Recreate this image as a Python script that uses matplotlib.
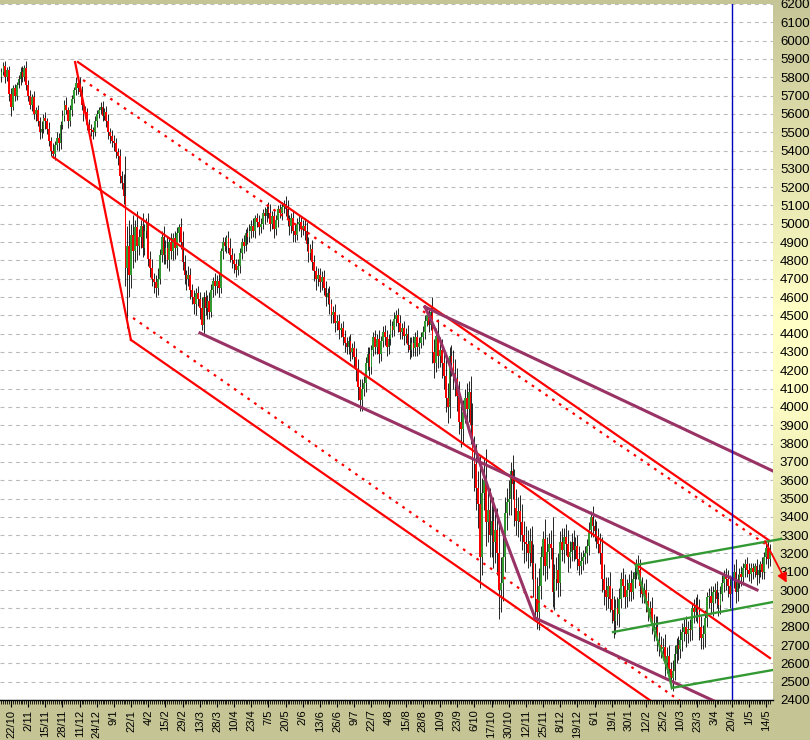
import numpy as np
import matplotlib.pyplot as plt
from matplotlib.colors import LinearSegmentedColormap

plt.rcParams['font.family'] = ['Liberation Sans', 'DejaVu Sans']

# date labels, one every 9 bars, first one on bar 5
date_labels = ['22/10', '2/11', '15/11', '28/11', '11/12', '24/12', '9/1', '22/1', '4/2', '15/2',
               '29/2', '13/3', '28/3', '10/4', '23/4', '7/5', '20/5', '2/6', '13/6', '26/6',
               '9/7', '22/7', '4/8', '15/8', '28/8', '10/9', '23/9', '6/10', '17/10', '30/10',
               '12/11', '25/11', '8/12', '19/12', '6/1', '19/1', '30/1', '12/2', '25/2', '10/3',
               '23/3', '3/4', '20/4', '1/5', '14/5']
first_label_bar = 5
label_step = 9
marker_date = '20/4'   # blue vertical line

first_open = 5800
closes = [
    5830, 5860, 5800, 5840, 5710,
    5640, 5740, 5700, 5760, 5790, 5830, 5800, 5850, 5760,
    5700, 5650, 5690, 5600, 5620, 5560, 5500, 5520, 5580,
    5560, 5520, 5450, 5400, 5380, 5430, 5470, 5440, 5540,
    5590, 5650, 5620, 5560, 5620, 5680, 5730, 5770, 5740,
    5720, 5650, 5600, 5610, 5540, 5520, 5510, 5500, 5560,
    5600, 5620, 5640, 5590, 5610, 5560, 5500, 5480, 5450,
    5440, 5390, 5370, 5260, 5220, 5150, 4760, 4880, 4720,
    4940, 4850, 4980, 4880, 4930, 4990, 4870, 4960, 5000,
    4810, 4760, 4700, 4680, 4650, 4700, 4830, 4930, 4830,
    4870, 4800, 4900, 4850, 4920, 4870, 4950, 4980, 4900,
    4790, 4720, 4700, 4720, 4640, 4600, 4560, 4620, 4590,
    4540, 4450, 4600, 4540, 4580, 4520, 4640, 4690, 4660,
    4690, 4650, 4850, 4900, 4880, 4920, 4870, 4830, 4800,
    4780, 4750, 4770, 4840, 4900, 4880, 4950, 4930, 4960,
    4990, 4960, 5030, 5010, 4980, 5000, 5060, 5040, 5080,
    5060, 5000, 5040, 4970, 5020, 5080, 5060, 5090, 5110,
    5080, 5020, 4990, 5030, 4960, 4940, 5000, 5010, 4970,
    4990, 4960, 4890, 4840, 4860, 4790, 4740, 4700, 4720,
    4680, 4710, 4650, 4600, 4620, 4560, 4500, 4520, 4460,
    4470, 4420, 4430, 4380, 4350, 4330, 4360, 4300, 4320,
    4270, 4200, 4110, 4040, 4100, 4130, 4240, 4290, 4220,
    4310, 4380, 4330, 4370, 4290, 4360, 4410, 4380, 4330,
    4370, 4440, 4420, 4480, 4500, 4460, 4410, 4430, 4390,
    4400, 4340, 4310, 4350, 4320, 4380, 4330, 4350, 4380,
    4410, 4470, 4500, 4450, 4520, 4300, 4240, 4390, 4280,
    4310, 4240, 4170, 4050, 4000, 4280, 4240, 4180, 4150,
    4060, 3920, 3880, 3970, 4050, 3990, 4080, 3900, 3720,
    3690, 3560, 3470, 3180, 3530, 3600, 3370, 3440, 3300,
    3380, 3260, 3330, 3200, 3000, 3040, 3180, 3420, 3480,
    3500, 3650, 3580, 3450, 3380, 3430, 3370, 3300, 3260,
    3250, 3200, 3270, 3150, 3060, 2950, 2880, 3020, 3180,
    3280, 3130, 3210, 3250, 3230, 2990, 3060, 3110, 3040,
    3260, 3220, 3290, 3250, 3180, 3210, 3260, 3220, 3240,
    3170, 3130, 3160, 3180, 3200, 3240, 3330, 3400, 3350,
    3320, 3290, 3250, 3200, 3060, 3000, 2960, 3020, 2950,
    2890, 2830, 2900, 2870, 2950, 3060, 3020, 2960, 3000,
    3040, 2990, 3060, 3100, 3140, 3110, 3020, 2980, 3000,
    2940, 2880, 2900, 2820, 2780, 2800, 2720, 2700, 2680,
    2690, 2600, 2640, 2570, 2520, 2560, 2650, 2700, 2680,
    2730, 2770, 2800, 2760, 2790, 2780, 2900, 2880, 2920,
    2880, 2800, 2740, 2760, 2850, 2960, 2970, 2930, 2990,
    3000, 2950, 2920, 2980, 3040, 3080, 3060, 3020, 2980,
    3060, 3100, 2990, 3050, 3090, 3070, 3120, 3140, 3110,
    3090, 3120, 3100, 3130, 3080, 3110, 3140, 3100, 3180,
    3230, 3170, 3220,
]
wick_up = [
    20, 25, 30, 15, 20,
    30, 20, 25, 15, 20, 25, 30, 15, 40,
    25, 30, 20, 35, 20, 30, 25, 40, 20,
    30, 20, 35, 25, 40, 20, 30, 25, 20,
    30, 25, 40, 20, 30, 25, 15, 30, 35,
    60, 30, 25, 35, 20, 30, 25, 20, 30,
    20, 15, 25, 30, 20, 35, 40, 25, 30,
    35, 30, 25, 40, 30, 50, 220, 110, 140,
    60, 110, 40, 90, 40, 30, 70, 40, 30,
    60, 40, 50, 30, 40, 60, 30, 30, 60,
    40, 60, 30, 50, 30, 40, 30, 20, 50,
    60, 40, 30, 50, 40, 30, 40, 30, 40,
    40, 60, 30, 40, 30, 50, 30, 20, 40,
    30, 40, 20, 30, 30, 20, 40, 50, 40,
    40, 30, 40, 30, 20, 40, 20, 30, 40,
    30, 40, 20, 30, 40, 30, 20, 30, 30,
    40, 50, 30, 40, 30, 20, 30, 30, 20,
    40, 50, 30, 30, 40, 40, 30, 40, 30,
    30, 40, 50, 40, 30, 50, 40, 30, 40,
    40, 30, 40, 40, 30, 40, 30, 30, 40,
    30, 40, 30, 40, 40, 30, 30, 40, 30,
    40, 50, 60, 40, 50, 40, 30, 40, 40,
    30, 30, 40, 30, 50, 30, 30, 40, 40,
    30, 40, 30, 40, 30, 40, 40, 30, 40,
    30, 50, 40, 30, 40, 30, 40, 30, 30,
    30, 30, 40, 40, 30, 80, 70, 40, 90,
    70, 60, 80, 90, 80, 50, 60, 70, 80,
    60, 80, 90, 70, 50, 80, 60, 90, 120,
    120, 110, 90, 260, 80, 120, 170, 100, 120,
    110, 130, 100, 120, 180, 140, 120, 90, 80,
    100, 50, 90, 80, 100, 80, 90, 100, 80,
    90, 80, 70, 80, 100, 90, 120, 100, 60,
    40, 110, 80, 60, 80, 170, 80, 70, 90,
    60, 80, 50, 70, 80, 60, 50, 70, 50,
    60, 70, 50, 40, 40, 40, 40, 30, 60,
    40, 60, 50, 60, 90, 80, 70, 50, 80,
    60, 80, 50, 60, 60, 40, 60, 70, 60,
    50, 70, 40, 40, 30, 50, 60, 50, 40,
    60, 50, 40, 60, 50, 60, 60, 50, 50,
    50, 70, 50, 60, 40, 60, 50, 40, 50,
    60, 50, 40, 60, 40, 50, 30, 50, 40,
    60, 70, 60, 50, 40, 30, 40, 50, 30,
    40, 50, 40, 40, 40, 30, 40, 50, 60,
    50, 40, 70, 40, 30, 40, 30, 30, 40,
    40, 30, 30, 20, 40, 30, 20, 40, 30,
    30, 40, 30,
]
wick_dn = [
    25, 20, 30, 20, 40,
    50, 20, 30, 25, 20, 30, 25, 20, 30,
    30, 25, 35, 30, 40, 25, 35, 30, 25,
    40, 30, 25, 30, 20, 30, 25, 40, 30,
    25, 30, 20, 35, 25, 30, 20, 25, 30,
    25, 30, 40, 20, 30, 25, 30, 35, 20,
    30, 25, 20, 30, 25, 30, 35, 40, 30,
    40, 30, 50, 40, 30, 40, 100, 330, 120,
    70, 90, 60, 80, 50, 60, 50, 40, 40,
    40, 50, 40, 60, 50, 40, 30, 40, 50,
    50, 40, 60, 40, 50, 60, 40, 50, 40,
    40, 50, 60, 40, 50, 40, 50, 60, 40,
    60, 30, 50, 40, 60, 40, 30, 40, 50,
    40, 50, 30, 40, 30, 40, 30, 40, 40,
    50, 40, 30, 40, 30, 40, 30, 40, 30,
    40, 30, 40, 30, 40, 30, 30, 40, 30,
    30, 40, 30, 50, 30, 40, 30, 40, 30,
    40, 30, 50, 40, 60, 40, 30, 40, 40,
    30, 50, 40, 50, 40, 40, 50, 60, 40,
    50, 40, 40, 50, 40, 50, 40, 40, 50,
    40, 50, 40, 40, 50, 40, 40, 50, 40,
    50, 60, 70, 60, 60, 40, 50, 40, 50,
    40, 30, 40, 40, 50, 40, 30, 40, 50,
    40, 30, 40, 30, 40, 50, 40, 40, 50,
    40, 40, 50, 40, 40, 40, 50, 40, 30,
    40, 40, 30, 40, 30, 60, 80, 50, 70,
    60, 80, 70, 80, 90, 60, 70, 80, 90,
    80, 70, 100, 80, 60, 90, 70, 100, 110,
    150, 120, 130, 170, 100, 90, 130, 110, 120,
    120, 140, 110, 120, 160, 120, 100, 80, 90,
    70, 90, 80, 100, 80, 90, 100, 80, 110,
    90, 80, 70, 90, 100, 110, 90, 100, 70,
    100, 80, 70, 90, 60, 80, 100, 60, 80,
    70, 60, 70, 60, 80, 60, 50, 60, 50,
    60, 50, 40, 50, 40, 50, 50, 40, 60,
    50, 60, 50, 60, 70, 80, 70, 60, 70,
    70, 90, 70, 60, 70, 50, 60, 60, 50,
    60, 50, 40, 50, 40, 50, 60, 50, 50,
    60, 50, 50, 60, 60, 50, 50, 60, 50,
    60, 70, 50, 60, 60, 70, 50, 50, 60,
    50, 60, 50, 70, 50, 60, 50, 60, 50,
    60, 70, 60, 60, 70, 50, 60, 60, 70,
    60, 50, 60, 50, 40, 50, 60, 60, 80,
    60, 50, 60, 50, 40, 50, 40, 50, 40,
    40, 50, 40, 30, 50, 40, 40, 40, 40,
    40, 50, 40,
]

# trend lines drawn on the chart, points as (bar, price)
red_solid = [
    [(38.6, 5883), (67.9, 4366)],
    [(40.1, 5883), (403.0, 3268)],
    [(27.0, 5365), (403.0, 2629)],
    [(67.9, 4366), (366.3, 2209)],
]
red_dotted = [
    [(42.8, 5785), (400.4, 3253)],
    [(69.0, 4486), (376.8, 2242)],
]
purple_lines = [
    [(104.1, 4404), (396.2, 3001)],
    [(222.1, 4546), (404.6, 3650)],
    [(222.1, 4546), (230.0, 4365), (237.8, 4158), (245.7, 3858), (263.0, 3312), (279.8, 2848)],
    [(279.8, 2848), (387.3, 2329)],
]
green_lines = [
    [(320.7, 2771), (404.6, 2935)],
    [(351.6, 2466), (404.6, 2564)],
    [(332.7, 3137), (336.4, 3001), (341.1, 2820), (345.3, 2689), (349.5, 2564), (351.6, 2466)],
]
green_top = [(332.7, 3137), (408.8, 3279)]
arrow_from = (400.4, 3268)
arrow_to = (411.8, 3040)

# ---------------------------------------------------------------
W, H = 810, 740
fig = plt.figure(figsize=(W / 100, H / 100), dpi=100)
fig.patch.set_facecolor('#C4C494')

# right hand price panel with its gradient
pan = fig.add_axes([773 / W, 40 / H, 37 / W, 700 / H], zorder=0)
cmap = LinearSegmentedColormap.from_list('panel', [(0, '#C6C597'), (0.45, '#FFFFC6'),
                                                   (0.55, '#FFFFC6'), (1, '#C6C597')])
pan.imshow(np.linspace(0, 1, 256).reshape(-1, 1), aspect='auto', cmap=cmap, extent=[0, 1, 0, 1])
pan.axis('off')

ax = fig.add_axes([0, 40 / H, 773 / W, 696 / H], zorder=1)
ax.set_facecolor('white')

c = np.array(closes)
o = np.array([first_open] + closes[:-1])
x = np.arange(len(c))
hi = np.maximum(o, c) + np.array(wick_up)
lo = np.minimum(o, c) - np.array(wick_dn)
cols = np.where(c >= o, '#339933', '#FF0000')

ax.vlines(x, lo, hi, color='black', lw=0.6, zorder=2)
ax.bar(x, np.maximum(np.abs(c - o), 8), bottom=np.minimum(o, c), width=0.9,
       color=cols, linewidth=0, zorder=3)

for pts in red_solid:
    px, py = zip(*pts)
    ax.plot(px, py, color='#FF0000', lw=1.6, zorder=4)
for pts in red_dotted:
    px, py = zip(*pts)
    ax.plot(px, py, color='#FF0000', lw=1.6, ls=(0, (1.2, 2.5)), zorder=4)
for pts in purple_lines:
    px, py = zip(*pts)
    ax.plot(px, py, color='#993366', lw=2.2, zorder=4)
for pts in green_lines:
    px, py = zip(*pts)
    ax.plot(px, py, color='#339933', lw=1.7, zorder=4)
px, py = zip(*green_top)
ax.plot(px, py, color='#339933', lw=1.7, zorder=4, clip_on=False)

ax.annotate('', xy=arrow_to, xytext=arrow_from, annotation_clip=False,
            arrowprops=dict(arrowstyle='-|>', color='#FF0000', lw=1.3,
                            mutation_scale=14, shrinkA=0, shrinkB=0),
            zorder=5).set_clip_on(False)

label_bars = [first_label_bar + label_step * k for k in range(len(date_labels))]
ax.axvline(label_bars[date_labels.index(marker_date)], color='#0000C0', lw=1.0, zorder=5)

ax.set_xlim(-0.77, 404.6)
ax.set_ylim(2400, 6200)

ax.set_xticks(label_bars)
ax.set_xticklabels(date_labels, rotation=90, fontsize=8)
ax.set_xticks(x, minor=True)
ax.tick_params(axis='x', which='major', length=5, width=0.8, pad=2)
ax.tick_params(axis='x', which='minor', length=3, width=0.6)

ax.yaxis.tick_right()
ax.set_yticks(np.arange(2400, 6201, 100))
ax.tick_params(axis='y', length=0, pad=5, labelsize=9.5)
ax.grid(axis='y', color='#BBBBBB', ls=(0, (3.5, 3.5)), lw=0.8, zorder=0)
ax.set_axisbelow(True)

for s in ['top', 'left', 'right']:
    ax.spines[s].set_visible(False)
ax.spines['bottom'].set_linewidth(1.0)

fig.savefig('out.png', dpi=100, facecolor=fig.get_facecolor())
